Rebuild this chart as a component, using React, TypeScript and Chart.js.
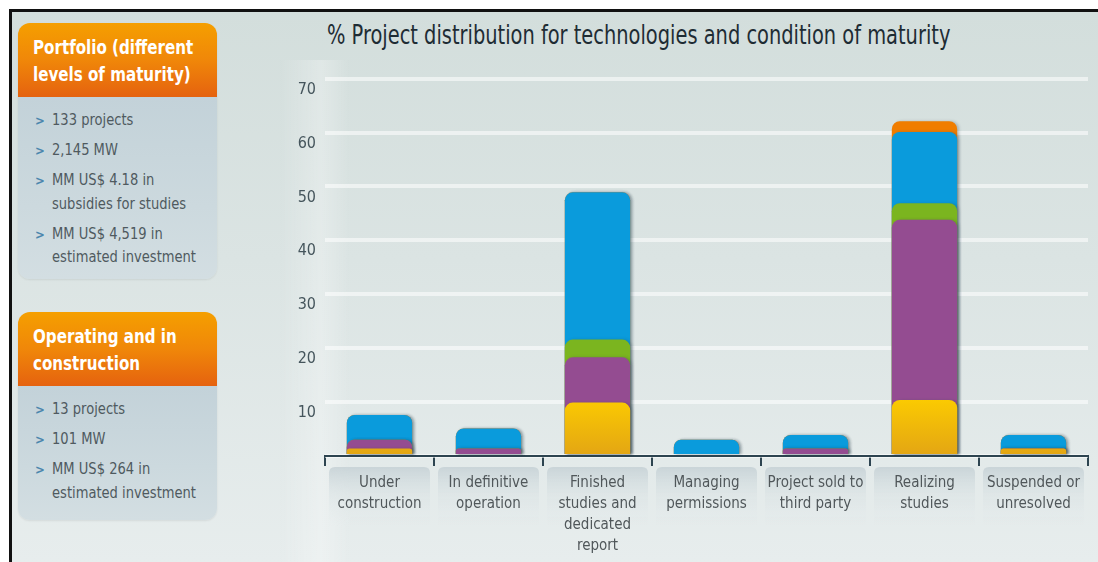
import React, { useEffect, useRef } from "react";
import { Chart, registerables } from "chart.js";

Chart.register(...registerables);

const FONT = "'Liberation Sans Narrow', 'DejaVu Sans Condensed', 'Arial Narrow', sans-serif";

const chartTitle = "% Project distribution for technologies and condition of maturity";

const categories: string[][] = [
  ["Under", "construction"],
  ["In definitive", "operation"],
  ["Finished", "studies and", "dedicated", "report"],
  ["Managing", "permissions"],
  ["Project sold to", "third party"],
  ["Realizing", "studies"],
  ["Suspended or", "unresolved"],
];

// Values in % (segments from bottom to top)
const yellowValues = [1.4, 0, 9.9, 0, 0, 10.4, 1.4];
const purpleValues = [1.6, 1.4, 8.4, 0, 1.4, 33.4, 0];
const greenValues = [0, 0, 3.3, 0, 0, 3.1, 0];
const blueValues = [4.6, 3.7, 27.3, 3.0, 2.5, 13.2, 2.5];
const orangeValues = [0, 0, 0, 0, 0, 2.0, 0];

const seriesNames = ["Yellow", "Purple", "Green", "Blue", "Orange"];
const seriesColors = ["#f7c600", "#944c91", "#7bb51f", "#0a9bdc", "#f07d00"];

const yMin = 0;
const yMax = 70;
const yStep = 10;

const panel1Title = ["Portfolio (different", "levels of maturity)"];
const panel1Items = [
  ["133 projects"],
  ["2,145 MW"],
  ["MM US$ 4.18 in", "subsidies for studies"],
  ["MM US$ 4,519 in", "estimated investment"],
];
const panel2Title = ["Operating and in", "construction"];
const panel2Items = [
  ["13 projects"],
  ["101 MW"],
  ["MM US$ 264 in", "estimated investment"],
];

function Panel({ top, title, items, bodyHeight }: { top: number; title: string[]; items: string[][]; bodyHeight: number }) {
  return (
    <div
      style={{
        position: "absolute",
        left: 18,
        top,
        width: 199,
        borderRadius: 12,
        overflow: "hidden",
        boxShadow: "0 1px 2px rgba(0,0,0,0.08)",
      }}
    >
      <div
        style={{
          height: 74,
          boxSizing: "border-box",
          padding: "11px 0 0 15px",
          background: "linear-gradient(180deg, #f59f00 0%, #f08709 50%, #e5620f 100%)",
          color: "#ffffff",
          fontFamily: FONT,
          fontWeight: 700,
          fontSize: 20,
          lineHeight: "27px",
          whiteSpace: "nowrap",
        }}
      >
        {title.map((t, i) => (
          <div key={i} style={{ transform: "scaleX(0.84)", transformOrigin: "left center" }}>{t}</div>
        ))}
      </div>
      <div
        style={{
          height: bodyHeight,
          boxSizing: "border-box",
          padding: "12px 0 0 0",
          background: "linear-gradient(180deg, #c3d2d9 0%, #ccd9de 60%, #d3dee2 100%)",
          fontFamily: FONT,
          fontSize: 15,
          color: "#4f5a5f",
        }}
      >
        {items.map((lines, i) => (
          <div key={i} style={{ position: "relative", paddingLeft: 34, marginBottom: 6.5, lineHeight: "23.5px" }}>
            <span style={{ position: "absolute", left: 17, top: 0, color: "#4a86ad", fontWeight: 700, fontSize: 13 }}>{">"}</span>
            {lines.map((l, j) => (
              <div key={j} style={{ whiteSpace: "nowrap", transform: "scaleX(0.97)", transformOrigin: "left center" }}>{l}</div>
            ))}
          </div>
        ))}
      </div>
    </div>
  );
}

export default function App() {
  const canvasRef = useRef<HTMLCanvasElement | null>(null);

  useEffect(() => {
    if (!canvasRef.current) return;
    const stackOrder = [yellowValues, purpleValues, greenValues, blueValues, orangeValues];
    const cumulative = stackOrder.map((_, s) =>
      categories.map((__, i) => stackOrder.slice(0, s + 1).reduce((acc, arr) => acc + arr[i], 0))
    );

    const bgPlugin = {
      id: "labelBoxes",
      beforeDraw(chart: any) {
        const { ctx, scales } = chart;
        const x = scales.x;
        const n = categories.length;
        const w = (x.right - x.left) / n;
        const ca = chart.chartArea;
        ctx.save();
        // soft light band at left of plot
        const lg = ctx.createLinearGradient(0, 0, ca.left + 25, 0);
        lg.addColorStop(0, "rgba(255,255,255,0)");
        lg.addColorStop(0.6, "rgba(255,255,255,0.28)");
        lg.addColorStop(1, "rgba(255,255,255,0)");
        ctx.fillStyle = lg;
        ctx.fillRect(0, 0, ca.left + 25, chart.height);
        for (let i = 0; i < n; i++) {
          const c = x.getPixelForValue(i);
          const l = c - w / 2 + 4;
          const r = c + w / 2 - 4;
          const t = x.top + 11;
          const b = x.top + 70;
          const g = ctx.createLinearGradient(0, t, 0, b);
          g.addColorStop(0, "rgba(200,211,215,0.95)");
          g.addColorStop(0.45, "rgba(216,225,227,0.5)");
          g.addColorStop(1, "rgba(226,233,234,0)");
          ctx.fillStyle = g;
          ctx.beginPath();
          const rad = 6;
          ctx.moveTo(l + rad, t);
          ctx.lineTo(r - rad, t);
          ctx.quadraticCurveTo(r, t, r, t + rad);
          ctx.lineTo(r, b);
          ctx.lineTo(l, b);
          ctx.lineTo(l, t + rad);
          ctx.quadraticCurveTo(l, t, l + rad, t);
          ctx.closePath();
          ctx.fill();
        }
        ctx.restore();
      },
      beforeDatasetsDraw(chart: any) {
        const ctx = chart.ctx;
        ctx.save();
        ctx.shadowColor = "rgba(40,60,70,0.25)";
        ctx.shadowBlur = 3;
        ctx.shadowOffsetX = 2;
        ctx.shadowOffsetY = 0;
      },
      afterDatasetsDraw(chart: any) {
        chart.ctx.restore();
      },
    };

    const yellowFill = (c: any) => {
      const chart = c.chart;
      if (!chart.chartArea) return seriesColors[0];
      const y0 = chart.scales.y.getPixelForValue(0);
      const y1 = chart.scales.y.getPixelForValue(11);
      const g = chart.ctx.createLinearGradient(0, y1, 0, y0);
      g.addColorStop(0, "#fccc00");
      g.addColorStop(1, "#e3a514");
      return g;
    };

    const chart = new Chart(canvasRef.current, {
      type: "bar",
      data: {
        labels: categories,
        datasets: seriesNames.map((name, s) => ({
          label: name,
          data: cumulative[s],
          backgroundColor: s === 0 ? yellowFill : seriesColors[s],
          borderWidth: 0,
          borderRadius: { topLeft: 8, topRight: 8, bottomLeft: 0, bottomRight: 0 },
          borderSkipped: "bottom",
          grouped: false,
          barPercentage: 0.6,
          categoryPercentage: 1,
        })) as any,
      },
      plugins: [bgPlugin],
      options: {
        animation: false,
        responsive: false,
        maintainAspectRatio: false,
        layout: { padding: { top: 10, right: 10, left: 0, bottom: 0 } },
        plugins: {
          legend: { display: false },
          tooltip: { enabled: false },
          title: { display: false },
        },
        scales: {
          x: {
            grid: {
              display: true,
              drawOnChartArea: false,
              drawTicks: true,
              tickLength: 10,
              color: "#2d4450",
              lineWidth: 2,
              offset: true,
            },
            border: { display: true, color: "#2d4450", width: 2 },
            ticks: {
              color: "#50575a",
              font: { family: FONT, size: 15, lineHeight: 1.4 },
              padding: 7,
              maxRotation: 0,
              autoSkip: false,
            },
            afterFit(scale: any) {
              scale.height = 106;
            },
          },
          y: {
            min: yMin,
            max: yMax,
            grid: {
              color: "rgba(255,255,255,0.55)",
              lineWidth: 4,
              drawTicks: false,
            },
            border: { display: false },
            ticks: {
              stepSize: yStep,
              color: "#45555c",
              font: { family: FONT, size: 16 },
              padding: 9,
              labelOffset: 11,
              callback: (v: any) => (Number(v) === 0 ? "" : String(v)),
            },
            afterFit(scale: any) {
              scale.width = 45;
            },
          },
        },
      },
    });
    return () => chart.destroy();
  }, []);

  return (
    <div style={{ position: "fixed", left: 0, top: 0, width: 1098, height: 562, background: "#ffffff", overflow: "hidden" }}>
      <div
        style={{
          position: "absolute",
          left: 9,
          top: 9,
          width: 1089,
          height: 553,
          boxSizing: "border-box",
          borderTop: "3px solid #111",
          borderLeft: "3px solid #111",
          background: "linear-gradient(180deg, #d3dedc 0%, #dbe4e3 45%, #e7eded 100%)",
        }}
      />
      <div
        style={{
          position: "absolute",
          left: 327,
          top: 20,
          fontFamily: FONT,
          fontSize: 26,
          lineHeight: "30px",
          color: "#1e2c34",
          whiteSpace: "nowrap",
          transform: "scaleX(0.83)",
          transformOrigin: "left center",
        }}
      >
        {chartTitle}
      </div>
      <Panel top={23} title={panel1Title} items={panel1Items} bodyHeight={182} />
      <Panel top={312} title={panel2Title} items={panel2Items} bodyHeight={134} />
      <canvas
        ref={canvasRef}
        width={818}
        height={502}
        style={{ position: "absolute", left: 280, top: 60, width: 818, height: 502 }}
      />
    </div>
  );
}
